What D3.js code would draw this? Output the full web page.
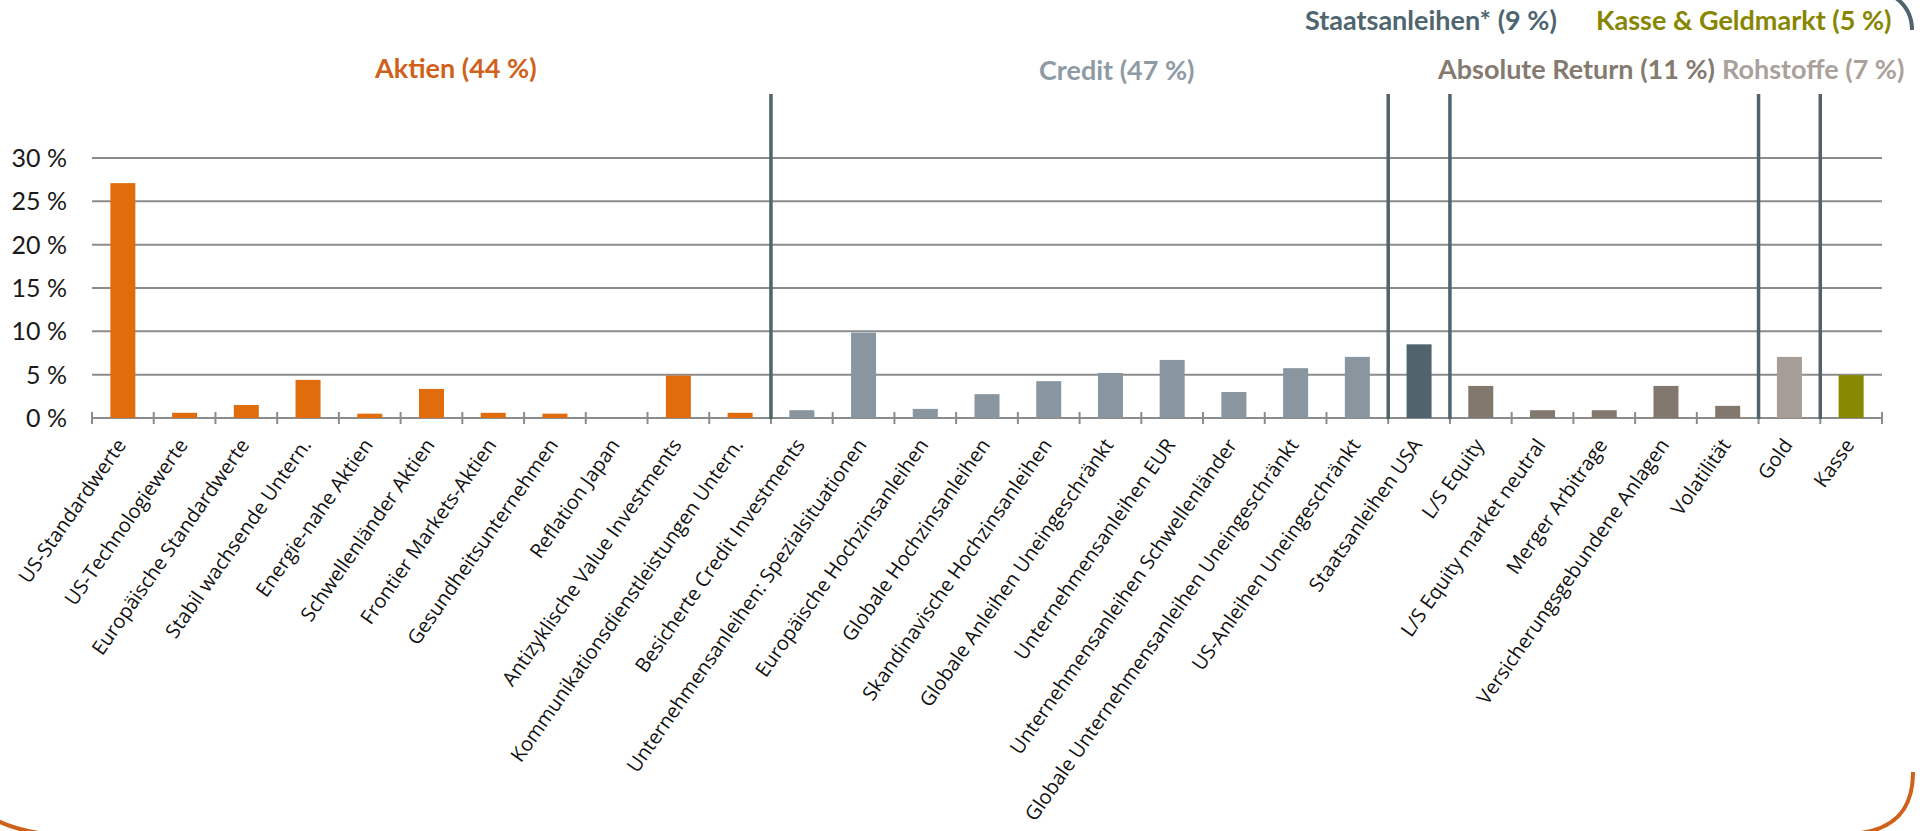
<!DOCTYPE html>
<html>
<head>
<meta charset="utf-8">
<script src="https://cdn.jsdelivr.net/npm/d3@7"></script>
<style>
    body { margin: 0; background: #fff; }
    svg { display: block; }
</style>
</head>
<body>
<div id="chart"></div>
<script>
/*
 * Portfolio allocation by strategy, bars coloured by asset class.
 */

// categories (x axis)
var categories = [
    "US-Standardwerte", "US-Technologiewerte", "Europäische Standardwerte",
    "Stabil wachsende Untern.", "Energie-nahe Aktien", "Schwellenländer Aktien",
    "Frontier Markets-Aktien", "Gesundheitsunternehmen", "Reflation Japan",
    "Antizyklische Value Investments", "Kommunikationsdienstleistungen Untern.",
    "Besicherte Credit Investments", "Unternehmensanleihen: Spezialsituationen",
    "Europäische Hochzinsanleihen", "Globale Hochzinsanleihen",
    "Skandinavische Hochzinsanleihen", "Globale Anleihen Uneingeschränkt",
    "Unternehmensanleihen EUR", "Unternehmensanleihen Schwellenländer",
    "Globale Unternehmensanleihen Uneingeschränkt", "US-Anleihen Uneingeschränkt",
    "Staatsanleihen USA",
    "L/S Equity", "L/S Equity market neutral", "Merger Arbitrage",
    "Versicherungsgebundene Anlagen", "Volatilität",
    "Gold",
    "Kasse"
];

// weights in %
var values = [
    27.1, 0.6, 1.5, 4.4, 0.5, 3.35, 0.6, 0.5, 0, 4.9, 0.6,
    0.9, 9.85, 1.05, 2.75, 4.25, 5.2, 6.7, 3.0, 5.75, 7.05,
    8.5,
    3.7, 0.9, 0.9, 3.7, 1.4,
    7.05,
    4.95
];

// asset class of each category (index into groupNames)
var groupOf = [
    0, 0, 0, 0, 0, 0, 0, 0, 0, 0, 0,
    1, 1, 1, 1, 1, 1, 1, 1, 1, 1,
    2,
    3, 3, 3, 3, 3,
    4,
    5
];

var groupNames = [
    "Aktien (44 %)", "Credit (47 %)", "Staatsanleihen* (9 %)",
    "Absolute Return (11 %)", "Rohstoffe (7 %)", "Kasse & Geldmarkt (5 %)"
];
var barColors = ["#e06c0b", "#8996a0", "#50646e", "#83786d", "#a69d97", "#878a00"];
var headColors = ["#d0611a", "#8e9ba5", "#4f6570", "#857a6f", "#aaa19b", "#878600"];

var yTicks = [0, 5, 10, 15, 20, 25, 30];

var width = 1926, height = 831;
var svg = d3.select("#chart")
        .append("svg")
        .attr("width", width)
        .attr("height", height);

var x = d3.scaleBand()
        .domain(categories)
        .range([92, 1882])
        .paddingInner(0.595)
        .paddingOuter(0.2975);
var step = x.step();
var left = 92;

var y = d3.scaleLinear()
        .domain([0, 30])
        .range([418, 158]);

// gridlines
svg.append("g")
        .selectAll("line")
        .data(yTicks)
        .enter()
        .append("line")
        .attr("x1", 92)
        .attr("x2", 1882)
        .attr("y1", function (d) { return y(d); })
        .attr("y2", function (d) { return y(d); })
        .attr("stroke", "#8c8c8c")
        .attr("stroke-width", 2);

// y labels
svg.append("g")
        .selectAll("text")
        .data(yTicks)
        .enter()
        .append("text")
        .attr("x", 67)
        .attr("y", function (d) { return y(d); })
        .attr("dy", "0.36em")
        .attr("text-anchor", "end")
        .style("font-family", "Lato, sans-serif")
        .style("font-size", "25px")
        .style("fill", "#1a1a1a")
        .text(function (d) { return d + " %"; });

// category boundary ticks
svg.append("g")
        .selectAll("line")
        .data(d3.range(categories.length + 1))
        .enter()
        .append("line")
        .attr("x1", function (i) { return left + i * step; })
        .attr("x2", function (i) { return left + i * step; })
        .attr("y1", 412)
        .attr("y2", 424)
        .attr("stroke", "#8c8c8c")
        .attr("stroke-width", 2);

// bars
svg.append("g")
        .selectAll("rect")
        .data(values)
        .enter()
        .append("rect")
        .attr("x", function (d, i) { return x(categories[i]); })
        .attr("width", x.bandwidth())
        .attr("y", function (d) { return y(d); })
        .attr("height", function (d) { return y(0) - y(d); })
        .attr("fill", function (d, i) { return barColors[groupOf[i]]; });

// separators between asset classes
var bounds = [];
for (var i = 1; i < categories.length; i++) {
    if (groupOf[i] !== groupOf[i - 1]) bounds.push(i);
}
svg.append("g")
        .selectAll("line")
        .data(bounds)
        .enter()
        .append("line")
        .attr("x1", function (i) { return left + i * step; })
        .attr("x2", function (i) { return left + i * step; })
        .attr("y1", 94)
        .attr("y2", 419)
        .attr("stroke", "#50636e")
        .attr("stroke-width", 3.5);

// rotated category labels
svg.append("g")
        .selectAll("text")
        .data(categories)
        .enter()
        .append("text")
        .attr("transform", function (d) {
            return "translate(" + (x(d) + x.bandwidth() / 2 + 4) + ",445) rotate(-55)";
        })
        .attr("text-anchor", "end")
        .style("font-family", "'Open Sans', sans-serif")
        .style("font-size", "20px")
        .style("fill", "#111")
        .text(function (d) { return d; });

// asset class headings
var headPos = [[375, 78], [1039, 80], [1305, 30], [1438, 79], [1722, 79], [1596, 30]];
svg.append("g")
        .selectAll("text")
        .data(groupNames)
        .enter()
        .append("text")
        .attr("x", function (d, i) { return headPos[i][0]; })
        .attr("y", function (d, i) { return headPos[i][1]; })
        .style("font-family", "Lato, sans-serif")
        .style("font-weight", "bold")
        .style("font-size", "27px")
        .style("fill", function (d, i) { return headColors[i]; })
        .text(function (d) { return d; });

// frame corners of the surrounding card
svg.append("path")
        .attr("d", "M1893,-4 Q1912,8 1912,30")
        .attr("fill", "none")
        .attr("stroke", "#50636e")
        .attr("stroke-width", 4);
svg.append("path")
        .attr("d", "M1913,772 C1913,812 1892,832 1850,834")
        .attr("fill", "none")
        .attr("stroke", "#d0611a")
        .attr("stroke-width", 4);
svg.append("path")
        .attr("d", "M-6,819 Q14,830 46,834")
        .attr("fill", "none")
        .attr("stroke", "#d0611a")
        .attr("stroke-width", 4);
</script>
</body>
</html>
